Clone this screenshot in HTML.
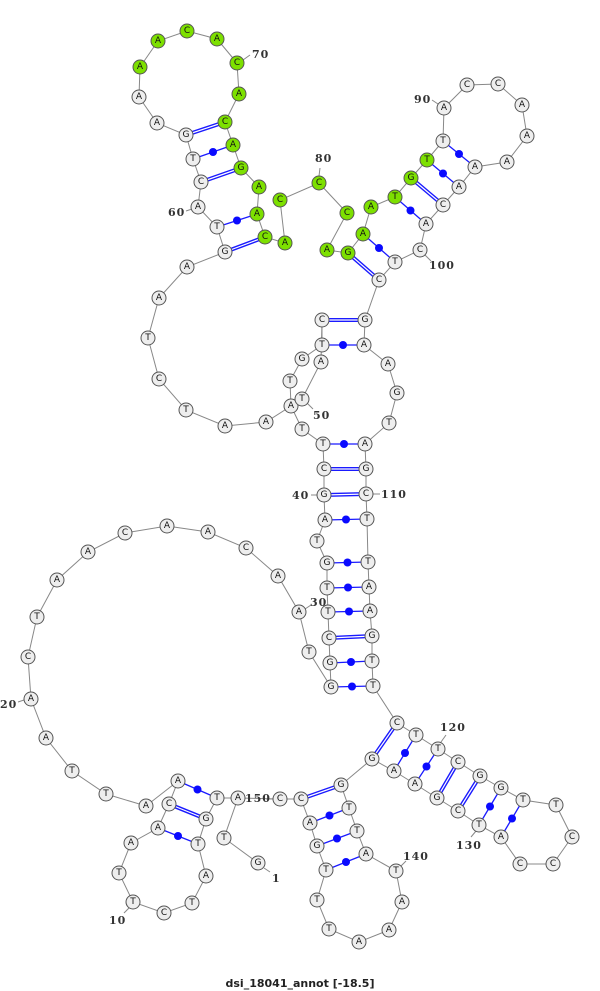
<!DOCTYPE html>
<html><head><meta charset="utf-8"><style>
html,body{margin:0;padding:0;background:#fff;}
svg{display:block}
.n circle{stroke:#555;stroke-width:1;fill:#eeeeee}
.g circle{fill:#7de000}
text.b{font-family:"DejaVu Sans","Liberation Sans",sans-serif;font-size:9px;text-anchor:middle;dominant-baseline:central;fill:#111}
text.l{font-family:"DejaVu Serif","Liberation Serif",serif;font-size:11px;font-weight:bold;fill:#333;letter-spacing:1px}
</style></head><body>
<svg width="600" height="991" viewBox="0 0 600 991" xmlns="http://www.w3.org/2000/svg">
<g fill="none" stroke="#888" stroke-width="1">
<polyline points="258,863 224,838 238,798 217,798 206,819 198,844 206,876 192,903 164,913 133,902 119,873 131,843 158,828 169,804 178,781 146,806 106,794 72,771 46,738 31,699 28,657 37,617 57,580 88,552 125,533 167,526 208,532 246,548 278,576 299,612 309,652 331,687 330,663 329,638 328,612 327,588 327,563 317,541 325,520 324,495 324,469 323,444 302,429 291,406 290,381 302,359 322,345 322,320 321,362 302,399 266,422 225,426 186,410 159,379 148,338 159,298 187,267 225,252 217,227 198,207 201,182 193,159 186,135 157,123 139,97 140,67 158,41 187,31 217,39 237,63 239,94 225,122 233,145 241,168 259,187 257,214 265,237 285,243 280,200 319,183 347,213 327,250 348,253 363,234 371,207 395,197 411,178 427,160 443,141 444,108 467,85 498,84 522,105 527,136 507,162 475,167 459,187 443,205 426,224 420,250 395,262 379,280 365,320 364,345 388,364 397,393 389,423 365,444 366,469 366,494 367,519 368,562 369,587 370,611 372,636 372,661 373,686 397,723 416,735 438,749 458,762 480,776 501,788 523,800 556,805 572,837 553,864 520,864 501,837 479,825 458,811 437,798 415,784 394,771 372,759 341,785 349,808 357,831 366,854 396,871 402,902 389,930 359,942 329,929 317,900 326,870 317,846 310,823 301,799 280,799 238,798"/>
<!-- ticks -->
<line x1="243" y1="60" x2="250" y2="55"/>
<line x1="192" y1="209" x2="186" y2="211"/>
<line x1="319" y1="176" x2="320" y2="168"/>
<line x1="438" y1="104" x2="432" y2="100"/>
<line x1="425" y1="255" x2="431" y2="261"/>
<line x1="307" y1="403" x2="313" y2="409"/>
<line x1="317" y1="495" x2="311" y2="495"/>
<line x1="373" y1="494" x2="380" y2="494"/>
<line x1="305" y1="609" x2="311" y2="605"/>
<line x1="24" y1="700" x2="18" y2="702"/>
<line x1="129" y1="908" x2="124" y2="913"/>
<line x1="264" y1="868" x2="270" y2="872"/>
<line x1="273" y1="799" x2="266" y2="799"/>
<line x1="441" y1="742" x2="446" y2="735"/>
<line x1="476" y1="831" x2="471" y2="837"/>
<line x1="401" y1="866" x2="406" y2="861"/>
</g>
<!-- double pairs -->
<g stroke-linecap="butt">
<g stroke="#1a1aff" stroke-width="4">
<line x1="206" y1="819" x2="169" y2="804"/>
<line x1="329" y1="638" x2="372" y2="636"/>
<line x1="324" y1="495" x2="366" y2="494"/>
<line x1="324" y1="469" x2="366" y2="469"/>
<line x1="322" y1="320" x2="365" y2="320"/>
<line x1="225" y1="252" x2="265" y2="237"/>
<line x1="201" y1="182" x2="241" y2="168"/>
<line x1="186" y1="135" x2="225" y2="122"/>
<line x1="348" y1="253" x2="379" y2="280"/>
<line x1="411" y1="178" x2="443" y2="205"/>
<line x1="397" y1="723" x2="372" y2="759"/>
<line x1="458" y1="762" x2="437" y2="798"/>
<line x1="480" y1="776" x2="458" y2="811"/>
<line x1="341" y1="785" x2="301" y2="799"/>
</g>
<g stroke="#fff" stroke-width="1.2">
<line x1="206" y1="819" x2="169" y2="804"/>
<line x1="329" y1="638" x2="372" y2="636"/>
<line x1="324" y1="495" x2="366" y2="494"/>
<line x1="324" y1="469" x2="366" y2="469"/>
<line x1="322" y1="320" x2="365" y2="320"/>
<line x1="225" y1="252" x2="265" y2="237"/>
<line x1="201" y1="182" x2="241" y2="168"/>
<line x1="186" y1="135" x2="225" y2="122"/>
<line x1="348" y1="253" x2="379" y2="280"/>
<line x1="411" y1="178" x2="443" y2="205"/>
<line x1="397" y1="723" x2="372" y2="759"/>
<line x1="458" y1="762" x2="437" y2="798"/>
<line x1="480" y1="776" x2="458" y2="811"/>
<line x1="341" y1="785" x2="301" y2="799"/>
</g>
</g>
<!-- single pairs -->
<g stroke="#1a1aff" stroke-width="1.3">
<line x1="217" y1="798" x2="178" y2="781"/>
<line x1="198" y1="844" x2="158" y2="828"/>
<line x1="331" y1="687" x2="373" y2="686"/>
<line x1="330" y1="663" x2="372" y2="661"/>
<line x1="328" y1="612" x2="370" y2="611"/>
<line x1="327" y1="588" x2="369" y2="587"/>
<line x1="327" y1="563" x2="368" y2="562"/>
<line x1="325" y1="520" x2="367" y2="519"/>
<line x1="323" y1="444" x2="365" y2="444"/>
<line x1="322" y1="345" x2="364" y2="345"/>
<line x1="217" y1="227" x2="257" y2="214"/>
<line x1="193" y1="159" x2="233" y2="145"/>
<line x1="363" y1="234" x2="395" y2="262"/>
<line x1="395" y1="197" x2="426" y2="224"/>
<line x1="427" y1="160" x2="459" y2="187"/>
<line x1="443" y1="141" x2="475" y2="167"/>
<line x1="416" y1="735" x2="394" y2="771"/>
<line x1="438" y1="749" x2="415" y2="784"/>
<line x1="501" y1="788" x2="479" y2="825"/>
<line x1="523" y1="800" x2="501" y2="837"/>
<line x1="349" y1="808" x2="310" y2="823"/>
<line x1="357" y1="831" x2="317" y2="846"/>
<line x1="366" y1="854" x2="326" y2="870"/>
</g>
<g fill="#0a0aff">
<circle cx="197.5" cy="789.5" r="4"/><circle cx="178" cy="836" r="4"/>
<circle cx="352" cy="686.5" r="4"/><circle cx="351" cy="662" r="4"/>
<circle cx="349" cy="611.5" r="4"/><circle cx="348" cy="587.5" r="4"/>
<circle cx="347.5" cy="562.5" r="4"/><circle cx="346" cy="519.5" r="4"/>
<circle cx="344" cy="444" r="4"/><circle cx="343" cy="345" r="4"/>
<circle cx="237" cy="220.5" r="4"/><circle cx="213" cy="152" r="4"/>
<circle cx="379" cy="248" r="4"/><circle cx="410.5" cy="210.5" r="4"/>
<circle cx="443" cy="173.5" r="4"/><circle cx="459" cy="154" r="4"/>
<circle cx="405" cy="753" r="4"/><circle cx="426.5" cy="766.5" r="4"/>
<circle cx="490" cy="806.5" r="4"/><circle cx="512" cy="818.5" r="4"/>
<circle cx="329.5" cy="815.5" r="4"/><circle cx="337" cy="838.5" r="4"/>
<circle cx="346" cy="862" r="4"/>
</g>
<!-- nodes -->
<g class="n">
<circle cx="258" cy="863" r="7"/><circle cx="224" cy="838" r="7"/><circle cx="238" cy="798" r="7"/><circle cx="217" cy="798" r="7"/><circle cx="206" cy="819" r="7"/><circle cx="198" cy="844" r="7"/><circle cx="206" cy="876" r="7"/><circle cx="192" cy="903" r="7"/><circle cx="164" cy="913" r="7"/><circle cx="133" cy="902" r="7"/><circle cx="119" cy="873" r="7"/><circle cx="131" cy="843" r="7"/><circle cx="158" cy="828" r="7"/><circle cx="169" cy="804" r="7"/><circle cx="178" cy="781" r="7"/><circle cx="146" cy="806" r="7"/><circle cx="106" cy="794" r="7"/><circle cx="72" cy="771" r="7"/><circle cx="46" cy="738" r="7"/><circle cx="31" cy="699" r="7"/><circle cx="28" cy="657" r="7"/><circle cx="37" cy="617" r="7"/><circle cx="57" cy="580" r="7"/><circle cx="88" cy="552" r="7"/><circle cx="125" cy="533" r="7"/><circle cx="167" cy="526" r="7"/><circle cx="208" cy="532" r="7"/><circle cx="246" cy="548" r="7"/><circle cx="278" cy="576" r="7"/><circle cx="299" cy="612" r="7"/><circle cx="309" cy="652" r="7"/><circle cx="331" cy="687" r="7"/><circle cx="330" cy="663" r="7"/><circle cx="329" cy="638" r="7"/><circle cx="328" cy="612" r="7"/><circle cx="327" cy="588" r="7"/><circle cx="327" cy="563" r="7"/><circle cx="317" cy="541" r="7"/><circle cx="325" cy="520" r="7"/><circle cx="324" cy="495" r="7"/><circle cx="324" cy="469" r="7"/><circle cx="323" cy="444" r="7"/><circle cx="302" cy="429" r="7"/><circle cx="291" cy="406" r="7"/><circle cx="290" cy="381" r="7"/><circle cx="302" cy="359" r="7"/><circle cx="322" cy="345" r="7"/><circle cx="322" cy="320" r="7"/><circle cx="321" cy="362" r="7"/><circle cx="302" cy="399" r="7"/><circle cx="266" cy="422" r="7"/><circle cx="225" cy="426" r="7"/><circle cx="186" cy="410" r="7"/><circle cx="159" cy="379" r="7"/><circle cx="148" cy="338" r="7"/><circle cx="159" cy="298" r="7"/><circle cx="187" cy="267" r="7"/><circle cx="225" cy="252" r="7"/><circle cx="217" cy="227" r="7"/><circle cx="198" cy="207" r="7"/><circle cx="201" cy="182" r="7"/><circle cx="193" cy="159" r="7"/><circle cx="186" cy="135" r="7"/><circle cx="157" cy="123" r="7"/><circle cx="139" cy="97" r="7"/>
<circle cx="443" cy="141" r="7"/><circle cx="444" cy="108" r="7"/><circle cx="467" cy="85" r="7"/><circle cx="498" cy="84" r="7"/><circle cx="522" cy="105" r="7"/><circle cx="527" cy="136" r="7"/><circle cx="507" cy="162" r="7"/><circle cx="475" cy="167" r="7"/><circle cx="459" cy="187" r="7"/><circle cx="443" cy="205" r="7"/><circle cx="426" cy="224" r="7"/><circle cx="420" cy="250" r="7"/><circle cx="395" cy="262" r="7"/><circle cx="379" cy="280" r="7"/><circle cx="365" cy="320" r="7"/><circle cx="364" cy="345" r="7"/><circle cx="388" cy="364" r="7"/><circle cx="397" cy="393" r="7"/><circle cx="389" cy="423" r="7"/><circle cx="365" cy="444" r="7"/><circle cx="366" cy="469" r="7"/><circle cx="366" cy="494" r="7"/><circle cx="367" cy="519" r="7"/><circle cx="368" cy="562" r="7"/><circle cx="369" cy="587" r="7"/><circle cx="370" cy="611" r="7"/><circle cx="372" cy="636" r="7"/><circle cx="372" cy="661" r="7"/><circle cx="373" cy="686" r="7"/><circle cx="397" cy="723" r="7"/><circle cx="416" cy="735" r="7"/><circle cx="438" cy="749" r="7"/><circle cx="458" cy="762" r="7"/><circle cx="480" cy="776" r="7"/><circle cx="501" cy="788" r="7"/><circle cx="523" cy="800" r="7"/><circle cx="556" cy="805" r="7"/><circle cx="572" cy="837" r="7"/><circle cx="553" cy="864" r="7"/><circle cx="520" cy="864" r="7"/><circle cx="501" cy="837" r="7"/><circle cx="479" cy="825" r="7"/><circle cx="458" cy="811" r="7"/><circle cx="437" cy="798" r="7"/><circle cx="415" cy="784" r="7"/><circle cx="394" cy="771" r="7"/><circle cx="372" cy="759" r="7"/><circle cx="341" cy="785" r="7"/><circle cx="349" cy="808" r="7"/><circle cx="357" cy="831" r="7"/><circle cx="366" cy="854" r="7"/><circle cx="396" cy="871" r="7"/><circle cx="402" cy="902" r="7"/><circle cx="389" cy="930" r="7"/><circle cx="359" cy="942" r="7"/><circle cx="329" cy="929" r="7"/><circle cx="317" cy="900" r="7"/><circle cx="326" cy="870" r="7"/><circle cx="317" cy="846" r="7"/><circle cx="310" cy="823" r="7"/><circle cx="301" cy="799" r="7"/><circle cx="280" cy="799" r="7"/>
</g>
<g class="n g">
<circle cx="140" cy="67" r="7"/><circle cx="158" cy="41" r="7"/><circle cx="187" cy="31" r="7"/><circle cx="217" cy="39" r="7"/><circle cx="237" cy="63" r="7"/><circle cx="239" cy="94" r="7"/><circle cx="225" cy="122" r="7"/><circle cx="233" cy="145" r="7"/><circle cx="241" cy="168" r="7"/><circle cx="259" cy="187" r="7"/><circle cx="257" cy="214" r="7"/><circle cx="265" cy="237" r="7"/><circle cx="285" cy="243" r="7"/><circle cx="280" cy="200" r="7"/><circle cx="319" cy="183" r="7"/><circle cx="347" cy="213" r="7"/><circle cx="327" cy="250" r="7"/><circle cx="348" cy="253" r="7"/><circle cx="363" cy="234" r="7"/><circle cx="371" cy="207" r="7"/><circle cx="395" cy="197" r="7"/><circle cx="411" cy="178" r="7"/><circle cx="427" cy="160" r="7"/>
</g>
<g>
<text class="b" x="258" y="863">G</text><text class="b" x="224" y="838">T</text><text class="b" x="238" y="798">A</text><text class="b" x="217" y="798">T</text><text class="b" x="206" y="819">G</text><text class="b" x="198" y="844">T</text><text class="b" x="206" y="876">A</text><text class="b" x="192" y="903">T</text><text class="b" x="164" y="913">C</text><text class="b" x="133" y="902">T</text><text class="b" x="119" y="873">T</text><text class="b" x="131" y="843">A</text><text class="b" x="158" y="828">A</text><text class="b" x="169" y="804">C</text><text class="b" x="178" y="781">A</text><text class="b" x="146" y="806">A</text><text class="b" x="106" y="794">T</text><text class="b" x="72" y="771">T</text><text class="b" x="46" y="738">A</text><text class="b" x="31" y="699">A</text><text class="b" x="28" y="657">C</text><text class="b" x="37" y="617">T</text><text class="b" x="57" y="580">A</text><text class="b" x="88" y="552">A</text><text class="b" x="125" y="533">C</text><text class="b" x="167" y="526">A</text><text class="b" x="208" y="532">A</text><text class="b" x="246" y="548">C</text><text class="b" x="278" y="576">A</text><text class="b" x="299" y="612">A</text><text class="b" x="309" y="652">T</text><text class="b" x="331" y="687">G</text><text class="b" x="330" y="663">G</text><text class="b" x="329" y="638">C</text><text class="b" x="328" y="612">T</text><text class="b" x="327" y="588">T</text><text class="b" x="327" y="563">G</text><text class="b" x="317" y="541">T</text><text class="b" x="325" y="520">A</text><text class="b" x="324" y="495">G</text><text class="b" x="324" y="469">C</text><text class="b" x="323" y="444">T</text><text class="b" x="302" y="429">T</text><text class="b" x="291" y="406">A</text><text class="b" x="290" y="381">T</text><text class="b" x="302" y="359">G</text><text class="b" x="322" y="345">T</text><text class="b" x="322" y="320">C</text><text class="b" x="321" y="362">A</text><text class="b" x="302" y="399">T</text><text class="b" x="266" y="422">A</text><text class="b" x="225" y="426">A</text><text class="b" x="186" y="410">T</text><text class="b" x="159" y="379">C</text><text class="b" x="148" y="338">T</text><text class="b" x="159" y="298">A</text><text class="b" x="187" y="267">A</text><text class="b" x="225" y="252">G</text><text class="b" x="217" y="227">T</text><text class="b" x="198" y="207">A</text><text class="b" x="201" y="182">C</text><text class="b" x="193" y="159">T</text><text class="b" x="186" y="135">G</text><text class="b" x="157" y="123">A</text><text class="b" x="139" y="97">A</text>
<text class="b" x="140" y="67">A</text><text class="b" x="158" y="41">A</text><text class="b" x="187" y="31">C</text><text class="b" x="217" y="39">A</text><text class="b" x="237" y="63">C</text><text class="b" x="239" y="94">A</text><text class="b" x="225" y="122">C</text><text class="b" x="233" y="145">A</text><text class="b" x="241" y="168">G</text><text class="b" x="259" y="187">A</text><text class="b" x="257" y="214">A</text><text class="b" x="265" y="237">C</text><text class="b" x="285" y="243">A</text><text class="b" x="280" y="200">C</text><text class="b" x="319" y="183">C</text><text class="b" x="347" y="213">C</text><text class="b" x="327" y="250">A</text><text class="b" x="348" y="253">G</text><text class="b" x="363" y="234">A</text><text class="b" x="371" y="207">A</text><text class="b" x="395" y="197">T</text><text class="b" x="411" y="178">G</text><text class="b" x="427" y="160">T</text>
<text class="b" x="443" y="141">T</text><text class="b" x="444" y="108">A</text><text class="b" x="467" y="85">C</text><text class="b" x="498" y="84">C</text><text class="b" x="522" y="105">A</text><text class="b" x="527" y="136">A</text><text class="b" x="507" y="162">A</text><text class="b" x="475" y="167">A</text><text class="b" x="459" y="187">A</text><text class="b" x="443" y="205">C</text><text class="b" x="426" y="224">A</text><text class="b" x="420" y="250">C</text><text class="b" x="395" y="262">T</text><text class="b" x="379" y="280">C</text><text class="b" x="365" y="320">G</text><text class="b" x="364" y="345">A</text><text class="b" x="388" y="364">A</text><text class="b" x="397" y="393">G</text><text class="b" x="389" y="423">T</text><text class="b" x="365" y="444">A</text><text class="b" x="366" y="469">G</text><text class="b" x="366" y="494">C</text><text class="b" x="367" y="519">T</text><text class="b" x="368" y="562">T</text><text class="b" x="369" y="587">A</text><text class="b" x="370" y="611">A</text><text class="b" x="372" y="636">G</text><text class="b" x="372" y="661">T</text><text class="b" x="373" y="686">T</text><text class="b" x="397" y="723">C</text><text class="b" x="416" y="735">T</text><text class="b" x="438" y="749">T</text><text class="b" x="458" y="762">C</text><text class="b" x="480" y="776">G</text><text class="b" x="501" y="788">G</text><text class="b" x="523" y="800">T</text><text class="b" x="556" y="805">T</text><text class="b" x="572" y="837">C</text><text class="b" x="553" y="864">C</text><text class="b" x="520" y="864">C</text><text class="b" x="501" y="837">A</text><text class="b" x="479" y="825">T</text><text class="b" x="458" y="811">C</text><text class="b" x="437" y="798">G</text><text class="b" x="415" y="784">A</text><text class="b" x="394" y="771">A</text><text class="b" x="372" y="759">G</text><text class="b" x="341" y="785">G</text><text class="b" x="349" y="808">T</text><text class="b" x="357" y="831">T</text><text class="b" x="366" y="854">A</text><text class="b" x="396" y="871">T</text><text class="b" x="402" y="902">A</text><text class="b" x="389" y="930">A</text><text class="b" x="359" y="942">A</text><text class="b" x="329" y="929">T</text><text class="b" x="317" y="900">T</text><text class="b" x="326" y="870">T</text><text class="b" x="317" y="846">G</text><text class="b" x="310" y="823">A</text><text class="b" x="301" y="799">C</text><text class="b" x="280" y="799">C</text>
</g>
<g>
<text class="l" x="252" y="58">70</text>
<text class="l" x="168" y="216">60</text>
<text class="l" x="315" y="162">80</text>
<text class="l" x="414" y="103">90</text>
<text class="l" x="429" y="269">100</text>
<text class="l" x="313" y="419">50</text>
<text class="l" x="292" y="499">40</text>
<text class="l" x="381" y="498">110</text>
<text class="l" x="310" y="606">30</text>
<text class="l" x="0" y="708">20</text>
<text class="l" x="109" y="924">10</text>
<text class="l" x="272" y="882">1</text>
<text class="l" x="245" y="802">150</text>
<text class="l" x="440" y="731">120</text>
<text class="l" x="456" y="849">130</text>
<text class="l" x="403" y="860">140</text>
</g>
<text x="300" y="987" text-anchor="middle" font-family="DejaVu Sans, Liberation Sans, sans-serif" font-size="11" font-weight="bold" fill="#222">dsi_18041_annot [-18.5]</text>
</svg>
</body></html>
